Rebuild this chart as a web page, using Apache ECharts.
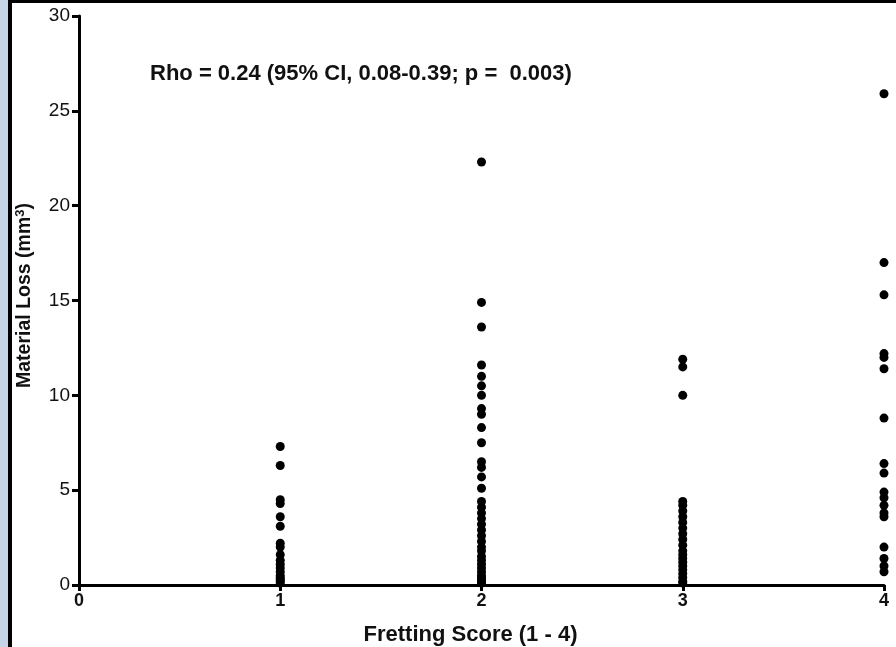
<!DOCTYPE html>
<html>
<head>
<meta charset="utf-8">
<script src="https://cdn.jsdelivr.net/npm/echarts@6/dist/echarts.min.js"></script>
<style>
html,body{margin:0;padding:0;background:#fff;}
#chart{width:896px;height:647px;}
</style>
</head>
<body>
<div id="chart"></div>
<script>
// Fretting score categories (x positions) and material loss values (mm^3)
const scores = [1, 2, 3, 4];
const score1 = [7.3, 6.3, 4.5, 4.3, 3.6, 3.1, 2.2, 2.0, 1.6, 1.3, 1.1, 0.9, 0.7, 0.5, 0.4, 0.3, 0.2, 0.1];
const score2 = [22.3, 14.9, 13.6, 11.6, 11.0, 10.5, 10.0, 9.3, 9.0, 8.3, 7.5, 6.5, 6.2, 5.7, 5.1, 4.4, 4.1, 3.8, 3.5, 3.2, 2.9, 2.6, 2.3, 2.0, 1.8, 1.5, 1.3, 1.1, 0.9, 0.7, 0.5, 0.4, 0.3, 0.2, 0.1];
const score3 = [11.9, 11.5, 10.0, 4.4, 4.2, 3.9, 3.6, 3.3, 3.0, 2.7, 2.4, 2.1, 1.8, 1.6, 1.4, 1.2, 1.0, 0.8, 0.6, 0.4, 0.2, 0.1];
const score4 = [25.9, 17.0, 15.3, 12.2, 12.0, 11.4, 8.8, 6.4, 5.9, 4.9, 4.6, 4.2, 3.8, 3.6, 2.0, 1.4, 1.0, 0.7];
const yTicks = [0, 5, 10, 15, 20, 25, 30];
const xTicks = [0, 1, 2, 3, 4];
const annotation = 'Rho = 0.24 (95% CI, 0.08-0.39; p =  0.003)';

const groups = [score1, score2, score3, score4];
const points = [];
groups.forEach((vals, i) => vals.forEach(v => points.push([scores[i], v])));

const chart = echarts.init(document.getElementById('chart'));
const FONT = 'Liberation Sans, Arial, sans-serif';
chart.setOption({
  animation: false,
  backgroundColor: '#ffffff',
  grid: { left: 79, right: 12, top: 16, bottom: 62, containLabel: false, outerBoundsMode: 'none' },
  title: {
    text: annotation,
    left: 145, top: 58,
    textStyle: { fontFamily: FONT, fontWeight: 'bold', fontSize: 22, color: '#111' }
  },
  xAxis: {
    type: 'value', min: 0, max: 4, interval: 1,
    axisLine: { show: true, onZero: false, lineStyle: { color: '#000', width: 3 } },
    axisTick: { show: true, length: 6, lineStyle: { color: '#000', width: 3 } },
    axisLabel: { fontFamily: FONT, fontWeight: 'bold', fontSize: 18, color: '#111', margin: 7,
      formatter: v => xTicks.includes(v) ? String(v) : '' },
    splitLine: { show: false },
    name: 'Fretting Score (1 - 4)', nameLocation: 'middle', nameGap: 39,
    nameTextStyle: { fontFamily: FONT, fontWeight: 'bold', fontSize: 22, color: '#111', padding: [0, 22, 0, 0] }
  },
  yAxis: {
    type: 'value', min: 0, max: 30, interval: 5,
    axisLine: { show: true, lineStyle: { color: '#000', width: 3 } },
    axisTick: { show: true, length: 7, lineStyle: { color: '#000', width: 3 } },
    axisLabel: { fontFamily: FONT, fontSize: 19, color: '#111', margin: 9,
      formatter: v => yTicks.includes(v) ? String(v) : '' },
    splitLine: { show: false },
    name: '{n|Material Loss (mm}{s|3}{n|)}', nameLocation: 'middle', nameGap: 44,
    nameTextStyle: {
      fontFamily: FONT, fontWeight: 'bold', fontSize: 19.5, color: '#111', padding: [0, 0, 0, 10],
      rich: {
        n: { fontFamily: FONT, fontWeight: 'bold', fontSize: 19.5, color: '#111' },
        s: { fontFamily: FONT, fontWeight: 'bold', fontSize: 13, color: '#111', verticalAlign: 'top', padding: [0, 0, 8, 0] }
      }
    }
  },
  series: [{
    type: 'scatter',
    data: points,
    symbol: 'circle',
    symbolSize: 9,
    itemStyle: { color: '#000', opacity: 1 },
    clip: false
  }],
  graphic: [
    { type: 'rect', left: 0, top: 0, shape: { width: 8, height: 647 }, style: { fill: '#c6d4e8' }, z: 100 },
    { type: 'rect', left: 8, top: 0, shape: { width: 4, height: 647 }, style: { fill: '#000' }, z: 100 },
    { type: 'rect', left: 8, top: 0, shape: { width: 888, height: 3 }, style: { fill: '#000' }, z: 100 }
  ]
});
</script>
</body>
</html>
